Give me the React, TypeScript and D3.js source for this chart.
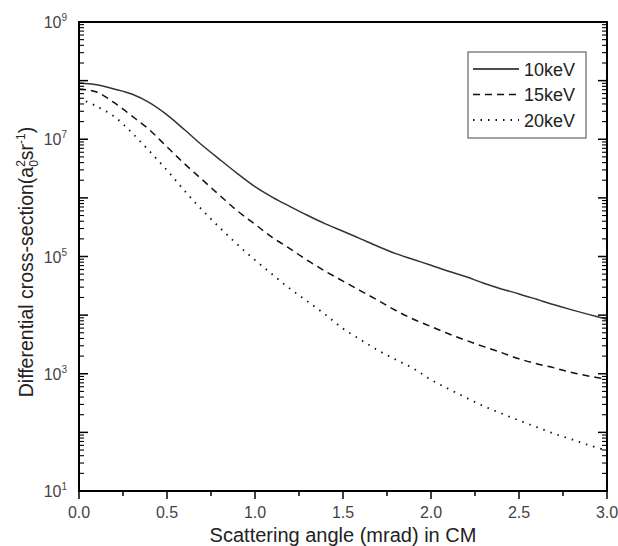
import React from "react";
import * as d3 from "d3";

// scattering angle (mrad)
const angles = [
  0.0, 0.1, 0.2, 0.3, 0.4, 0.5, 0.6, 0.7, 0.8, 0.9, 1.0,
  1.1, 1.2, 1.3, 1.4, 1.5, 1.6, 1.7, 1.8, 1.9, 2.0,
  2.1, 2.2, 2.3, 2.4, 2.5, 2.6, 2.7, 2.8, 2.9, 3.0,
];

const keV10 = [
  9.1e7, 8.5e7, 7.2e7, 5.9e7, 4.2e7, 2.6e7, 1.45e7, 7.9e6, 4.5e6, 2.6e6, 1.55e6,
  1.02e6, 7.1e5, 5.0e5, 3.6e5, 2.7e5, 2.0e5, 1.48e5, 1.12e5, 8.9e4, 7.1e4,
  5.6e4, 4.5e4, 3.5e4, 2.8e4, 2.3e4, 1.86e4, 1.5e4, 1.23e4, 1.02e4, 8.5e3,
];

const keV15 = [
  7.2e7, 6.4e7, 4.2e7, 2.5e7, 1.45e7, 7.4e6, 3.8e6, 2.05e6, 1.1e6, 6.0e5, 3.55e5,
  2.1e5, 1.35e5, 8.5e4, 5.6e4, 3.8e4, 2.6e4, 1.78e4, 1.2e4, 8.5e3, 6.4e3,
  4.8e3, 3.7e3, 2.9e3, 2.3e3, 1.8e3, 1.48e3, 1.26e3, 1.05e3, 9.1e2, 8.1e2,
];

const keV20 = [
  5.0e7, 3.65e7, 2.45e7, 1.29e7, 6.3e6, 2.95e6, 1.32e6, 6.2e5, 3.1e5, 1.6e5, 8.7e4,
  4.9e4, 2.8e4, 1.7e4, 1.02e4, 5.9e3, 3.8e3, 2.5e3, 1.74e3, 1.23e3, 7.9e2,
  5.5e2, 3.9e2, 2.8e2, 2.1e2, 1.6e2, 1.23e2, 95, 76, 60, 49,
];

const seriesNames = ["10keV", "15keV", "20keV"];
const seriesDash = ["none", "7,5", "1.5,6"];
const xTicks = [0, 0.5, 1.0, 1.5, 2.0, 2.5, 3.0];
const xMinor = [0.25, 0.75, 1.25, 1.75, 2.25, 2.75];
const yExponents = [1, 3, 5, 7, 9];

const FONT = "'Liberation Sans', Arial, sans-serif";

export default function App() {
  const x = d3.scaleLinear().domain([0, 3]).range([79, 607]);
  const y = d3.scaleLog().domain([10, 1e9]).range([491, 22]);

  const line = d3
    .line<number>()
    .x((_, i) => x(angles[i]))
    .y((d) => y(d))
    .curve(d3.curveCatmullRom);

  const allSeries = [keV10, keV15, keV20];

  // log ticks: majors at each decade, minors at 2..9
  const yMajor: number[] = [];
  const yMinorT: number[] = [];
  for (let e = 1; e <= 9; e++) {
    yMajor.push(Math.pow(10, e));
    if (e < 9) for (let k = 2; k <= 9; k++) yMinorT.push(k * Math.pow(10, e));
  }

  const [x0, x1] = x.range();
  const [y0, y1] = y.range();

  return (
    <svg
      width={618}
      height={546}
      style={{ position: "absolute", left: 0, top: 0, background: "#fff" }}
      fontFamily={FONT}
    >
      <rect width={618} height={546} fill="#fff" />

      {/* curves */}
      {allSeries.map((s, i) => (
        <path
          key={seriesNames[i]}
          d={line(s) || ""}
          fill="none"
          stroke={i === 0 ? "#333" : "#111"}
          strokeWidth={i === 2 ? 1.8 : 1.5}
          strokeDasharray={seriesDash[i]}
        />
      ))}

      {/* y ticks, inward on left and right */}
      {yMajor.map((v) => (
        <g key={"ym" + v}>
          <line x1={x0} x2={x0 + 9} y1={y(v)} y2={y(v)} stroke="#000" strokeWidth={1.5} />
          <line x1={x1} x2={x1 - 9} y1={y(v)} y2={y(v)} stroke="#000" strokeWidth={1.5} />
        </g>
      ))}
      {yMinorT.map((v) => (
        <g key={"yn" + v}>
          <line x1={x0} x2={x0 + 5} y1={y(v)} y2={y(v)} stroke="#000" strokeWidth={1.1} />
          <line x1={x1} x2={x1 - 5} y1={y(v)} y2={y(v)} stroke="#000" strokeWidth={1.1} />
        </g>
      ))}

      {/* x ticks, outward */}
      {xTicks.map((v) => (
        <line key={"xm" + v} x1={x(v)} x2={x(v)} y1={y0} y2={y0 + 8} stroke="#000" strokeWidth={1.5} />
      ))}
      {xMinor.map((v) => (
        <line key={"xn" + v} x1={x(v)} x2={x(v)} y1={y0} y2={y0 + 5} stroke="#000" strokeWidth={1.5} />
      ))}

      {/* frame */}
      <rect x={x0} y={y1} width={x1 - x0} height={y0 - y1} fill="none" stroke="#000" strokeWidth={2} />

      {/* x tick labels */}
      {xTicks.map((v) => (
        <text key={"xl" + v} x={x(v)} y={518} textAnchor="middle" fontSize={16} fill="#444">
          {v.toFixed(1)}
        </text>
      ))}

      {/* y tick labels */}
      {yExponents.map((e) => (
        <text key={"yl" + e} x={67} y={y(Math.pow(10, e)) + 6} textAnchor="end" fontSize={16} fill="#444">
          10
          <tspan fontSize={10} dy={-7}>
            {e}
          </tspan>
        </text>
      ))}

      {/* axis titles */}
      <text x={343} y={542} textAnchor="middle" fontSize={20} fill="#222">
        Scattering angle (mrad) in CM
      </text>
      <text
        transform={`translate(33, 262) rotate(-90)`}
        textAnchor="middle"
        fontSize={19.5}
        fill="#222"
      >
        Differential cross-section(a
        <tspan fontSize={12} dy={-8}>2</tspan>
        <tspan fontSize={12} dx={-6.7} dy={13}>0</tspan>
        <tspan dy={-5}>sr</tspan>
        <tspan fontSize={12} dy={-8}>-1</tspan>
        <tspan dy={8}>)</tspan>
      </text>

      {/* legend */}
      <g>
        <rect x={468} y={52} width={118} height={86} fill="#fff" stroke="#444" strokeWidth={1} />
        {seriesNames.map((name, i) => {
          const ly = 69 + i * 25.5;
          return (
            <g key={"lg" + name}>
              <line
                x1={473}
                x2={519}
                y1={ly}
                y2={ly}
                stroke="#111"
                strokeWidth={i === 2 ? 1.8 : 1.5}
                strokeDasharray={seriesDash[i]}
              />
              <text x={524} y={ly + 6.5} fontSize={18} fill="#222">
                {name}
              </text>
            </g>
          );
        })}
      </g>
    </svg>
  );
}
